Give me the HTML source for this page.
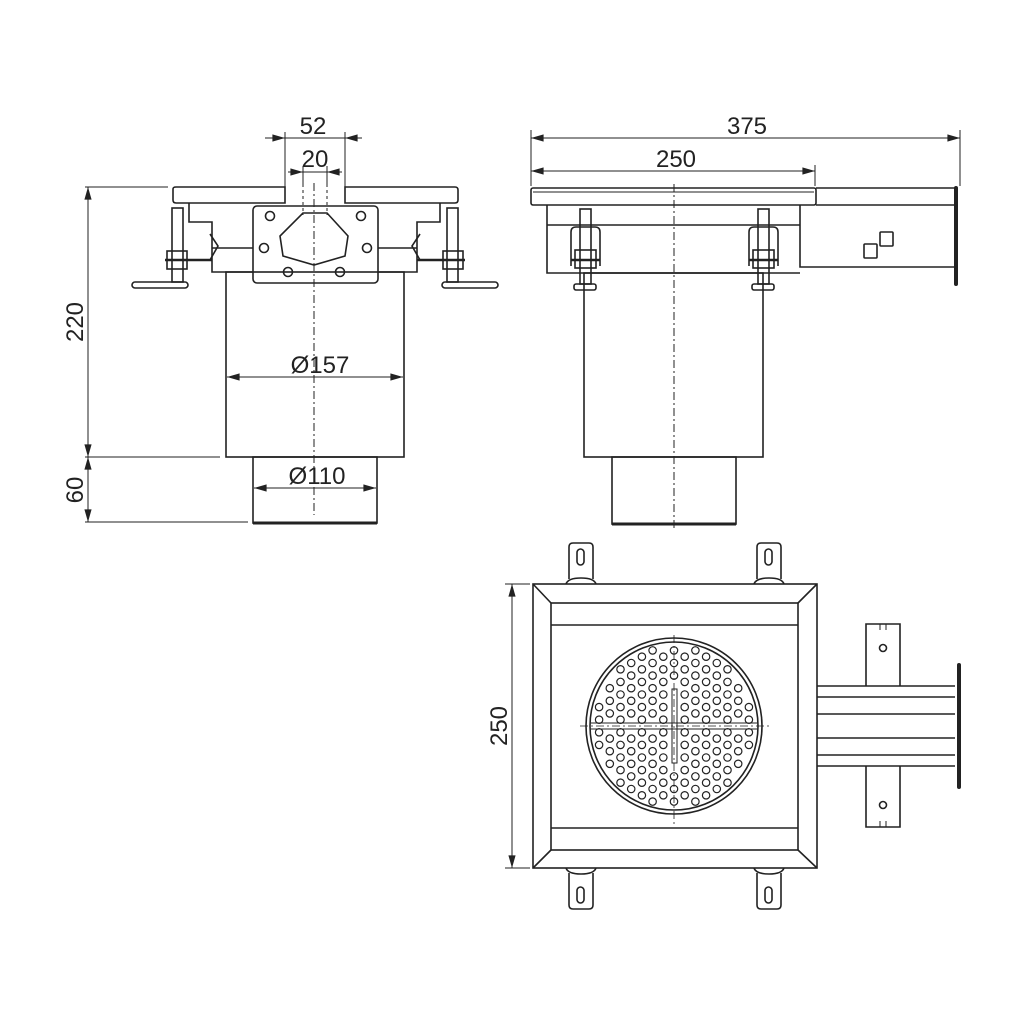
<!DOCTYPE html>
<html><head><meta charset="utf-8"><style>
html,body{margin:0;padding:0;background:#fff}
svg{display:block}
text{font-family:"Liberation Sans",sans-serif;font-size:24px;fill:#222}
</style></head><body>
<svg id="s" width="1024" height="1024" viewBox="0 0 1024 1024" xmlns="http://www.w3.org/2000/svg">
<defs>
<marker id="a" viewBox="0 0 14 10" refX="14" refY="5" markerWidth="14" markerHeight="9" orient="auto-start-reverse" markerUnits="userSpaceOnUse"><path d="M0,1 L14,5 L0,9z" fill="#222"/></marker>
</defs>
<g stroke="#222" stroke-width="1.6" fill="none">
<!-- LEFT VIEW -->
<path d="M173,189 Q173,187 176,187 L285,187 L285,203 L176,203 Q173,203 173,200Z"/>
<path d="M345,187 L455,187 Q458,187 458,190 L458,200 Q458,203 455,203 L345,203Z"/>
<rect x="253" y="206" width="125" height="77" rx="4"/>
<path d="M303,213 L327,213 L348,236 L345,256 L314,265 L283,256 L280,236Z"/>
<circle cx="270" cy="216" r="4.5"/><circle cx="361" cy="216" r="4.5"/>
<circle cx="264" cy="248" r="4.5"/><circle cx="367" cy="248" r="4.5"/>
<circle cx="288" cy="272" r="4.5"/><circle cx="340" cy="272" r="4.5"/>
<path d="M189,203 L189,222 L212,222 L212,272 L253,272"/>
<path d="M440,203 L440,222 L417,222 L417,272 L378,272"/>
<path d="M212,248 L253,248 M210,234 L218,246 L210,260 M378,248 L417,248 M420,234 L412,246 L420,260"/>
<rect x="172" y="208" width="11" height="74"/><rect x="167" y="251" width="20" height="18"/>
<line x1="165" y1="260" x2="212" y2="260" stroke-width="2.5"/>
<rect x="132" y="282" width="56" height="6" rx="3"/>
<rect x="447" y="208" width="11" height="74"/><rect x="443" y="251" width="20" height="18"/>
<line x1="417" y1="260" x2="465" y2="260" stroke-width="2.5"/>
<rect x="442" y="282" width="56" height="6" rx="3"/>
<rect x="226" y="272" width="178" height="185"/>
<rect x="253" y="457" width="124" height="66"/>
<line x1="253" y1="523" x2="377" y2="523" stroke-width="3"/>
<line x1="314" y1="183" x2="314" y2="515" stroke-dasharray="8,3,2,3" stroke-width="1"/>
<line x1="303" y1="190" x2="303" y2="215" stroke-dasharray="3,3" stroke-width="1"/>
<line x1="327" y1="190" x2="327" y2="215" stroke-dasharray="3,3" stroke-width="1"/>
<!-- dims left -->
<g stroke-width="1">
<line x1="285" y1="132" x2="285" y2="187"/><line x1="345" y1="132" x2="345" y2="187"/>
<line x1="303" y1="166" x2="303" y2="187"/><line x1="327" y1="166" x2="327" y2="187"/>
<line x1="265" y1="138" x2="285" y2="138" marker-end="url(#a)"/><line x1="362" y1="138" x2="345" y2="138" marker-end="url(#a)"/>
<line x1="285" y1="138" x2="345" y2="138"/>
<line x1="288" y1="172" x2="303" y2="172" marker-end="url(#a)"/><line x1="342" y1="172" x2="327" y2="172" marker-end="url(#a)"/>
<line x1="303" y1="172" x2="327" y2="172"/>
<line x1="85" y1="187" x2="168" y2="187"/><line x1="85" y1="457" x2="220" y2="457"/><line x1="85" y1="522" x2="248" y2="522"/>
<line x1="88" y1="187" x2="88" y2="457" marker-start="url(#a)" marker-end="url(#a)"/>
<line x1="88" y1="457" x2="88" y2="522" marker-start="url(#a)" marker-end="url(#a)"/>
<line x1="227" y1="377" x2="403" y2="377" marker-start="url(#a)" marker-end="url(#a)"/>
<line x1="254" y1="488" x2="376" y2="488" marker-start="url(#a)" marker-end="url(#a)"/>
</g>
<!-- TOP RIGHT VIEW -->
<rect x="531" y="188" width="285" height="17" rx="2"/>
<line x1="533" y1="192" x2="814" y2="192" stroke-width="1"/>
<path d="M816,188 L955,188 M816,205 L955,205 M800,205 L800,267 L955,267"/>
<line x1="956" y1="188" x2="956" y2="284" stroke-width="4" stroke-linecap="round"/>
<path d="M547,205 L547,273 L800,273 M547,225 L800,225"/>
<rect x="864" y="244" width="13" height="14" rx="1"/><rect x="880" y="232" width="13" height="14" rx="1"/>
<g id="bolt"><rect x="580" y="209" width="11" height="75"/><path d="M571,266 L571,232 Q571,227 576,227 L595,227 Q600,227 600,232 L600,266"/><rect x="575" y="250" width="21" height="18"/><line x1="571" y1="260" x2="600" y2="260" stroke-width="2.5"/><rect x="574" y="284" width="22" height="6" rx="2"/></g>
<use href="#bolt" x="178"/>
<rect x="584" y="273" width="179" height="184"/>
<rect x="612" y="457" width="124" height="67"/>
<line x1="612" y1="524" x2="736" y2="524" stroke-width="3"/>
<line x1="674" y1="184" x2="674" y2="528" stroke-dasharray="8,3,2,3" stroke-width="1"/>
<g stroke-width="1">
<line x1="531" y1="130" x2="531" y2="186"/><line x1="960" y1="130" x2="960" y2="186"/><line x1="815" y1="165" x2="815" y2="186"/>
<line x1="531" y1="138" x2="960" y2="138" marker-start="url(#a)" marker-end="url(#a)"/>
<line x1="531" y1="171" x2="815" y2="171" marker-start="url(#a)" marker-end="url(#a)"/>
<line x1="505" y1="584" x2="530" y2="584"/><line x1="505" y1="868" x2="530" y2="868"/>
<line x1="512" y1="584" x2="512" y2="868" marker-start="url(#a)" marker-end="url(#a)"/>
</g>
<!-- BOTTOM PLAN -->
<g id="tab"><path d="M569,579 L569,547 Q569,543 573,543 L589,543 Q593,543 593,547 L593,579"/><rect x="577" y="549" width="7" height="16" rx="3.5"/><path d="M566,584 Q568,578 581,578 Q594,578 596,584"/></g>
<use href="#tab" x="188"/>
<use href="#tab" transform="translate(0,1452) scale(1,-1)"/>
<use href="#tab" transform="translate(188,1452) scale(1,-1)"/>
<rect x="533" y="584" width="284" height="284"/>
<rect x="551" y="603" width="247" height="247"/>
<path d="M533,584 L551,603 M817,584 L798,603 M533,868 L551,850 M817,868 L798,850 M551,625 L798,625 M551,828 L798,828"/>
<circle cx="674" cy="726" r="88"/><circle cx="674" cy="726" r="84"/>
<line x1="591" y1="723" x2="757" y2="723" stroke-width="1"/><line x1="591" y1="729" x2="757" y2="729" stroke-width="1"/>
<rect x="672" y="689" width="5" height="74" stroke-width="1"/>
<line x1="580" y1="726" x2="770" y2="726" stroke-dasharray="8,3,2,3" stroke-width="0.8"/>
<line x1="674" y1="635" x2="674" y2="825" stroke-dasharray="8,3,2,3" stroke-width="0.8"/>
<g id="holes" stroke-width="1.2"></g>
<path d="M817,686 L955,686 M817,697 L955,697 M817,714 L955,714 M817,738 L955,738 M817,755 L955,755 M817,766 L955,766"/>
<line x1="959" y1="665" x2="959" y2="787" stroke-width="4" stroke-linecap="round"/>
<path d="M866,686 L866,624 L900,624 L900,686 M866,766 L866,827 L900,827 L900,766"/>
<circle cx="883" cy="648" r="3.5"/><circle cx="883" cy="805" r="3.5"/>
<path d="M880,624 L880,630 M886,624 L886,630 M880,827 L880,821 M886,827 L886,821" stroke-width="1"/>
</g>
<text x="313" y="134" text-anchor="middle">52</text>
<text x="315" y="167" text-anchor="middle">20</text>
<text x="320" y="373" text-anchor="middle">Ø157</text>
<text x="317" y="484" text-anchor="middle">Ø110</text>
<text transform="translate(83,322) rotate(-90)" text-anchor="middle">220</text>
<text transform="translate(83,490) rotate(-90)" text-anchor="middle">60</text>
<text x="747" y="134" text-anchor="middle">375</text>
<text x="676" y="167" text-anchor="middle">250</text>
<text transform="translate(507,726) rotate(-90)" text-anchor="middle">250</text>
</svg>
<script>
var g=document.getElementById('holes'),ns='http://www.w3.org/2000/svg',cx=674,cy=726;
for(var r=-12;r<=12;r++){var y=cy+r*6.3;var off=(Math.abs(r)%2===0)?0:10.7;
for(var c=-5;c<=5;c++){var x=cx+c*21.4+off;var dx=x-cx,dy=y-cy;
if(Math.sqrt(dx*dx+dy*dy)>79)continue;if(Math.abs(dy)<4)continue;if(Math.abs(dx)<4&&Math.abs(dy)<38)continue;
var e=document.createElementNS(ns,'circle');e.setAttribute('cx',x);e.setAttribute('cy',y);e.setAttribute('r',3.7);g.appendChild(e);}}
</script>
</body></html>
